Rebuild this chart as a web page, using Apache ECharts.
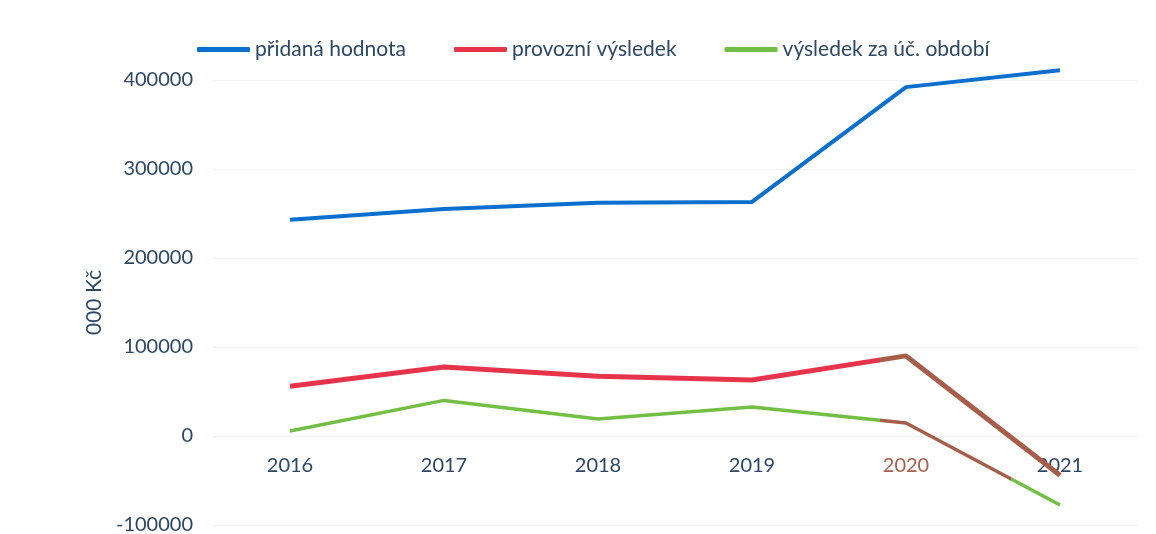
<!DOCTYPE html>
<html>
<head>
<meta charset="utf-8">
<script src="https://cdn.jsdelivr.net/npm/echarts@6/dist/echarts.min.js"></script>
<style>
  html, body { margin: 0; padding: 0; background: #fff; }
  #chart { width: 1156px; height: 534px; }
</style>
</head>
<body>
<div id="chart"></div>
<script>
const years = [2016, 2017, 2018, 2019, 2020, 2021];
const pridanaHodnota = [243000, 255000, 262000, 263000, 392000, 411000];
const provozniVysledek = [56000, 77500, 67000, 63000, 90000, -44000];
const vysledekObdobi = [5600, 40000, 19000, 32600, 14600, -77500];

const brown = '#a65e4a';
const textColor = '#2c4766';

function pairs(values) {
  return years.map(function (y, i) { return [y, values[i]]; });
}

const chart = echarts.init(document.getElementById('chart'));
const option = {
  animation: false,
  textStyle: { fontFamily: 'Lato' },
  legend: {
    top: 34,
    left: 192,
    itemGap: 48,
    itemWidth: 53,
    itemHeight: 5,
    icon: 'roundRect',
    textStyle: { fontSize: 21, color: textColor, fontFamily: 'Lato' },
    data: ['přidaná hodnota', 'provozní výsledek', 'výsledek za úč. období']
  },
  grid: { left: 213, right: 19, top: 80, bottom: 9, outerBoundsMode: 'none' },
  xAxis: {
    type: 'value',
    min: 2015.5,
    max: 2021.5,
    offset: -89,
    axisLine: { show: false, onZero: false },
    axisTick: { show: false },
    splitLine: { show: false },
    axisLabel: {
      margin: 20,
      fontSize: 20,
      customValues: years,
      formatter: function (v) { return String(v); },
      color: function (v) { return String(v) === '2020' ? brown : textColor; }
    }
  },
  yAxis: {
    type: 'value',
    min: -100000,
    max: 400000,
    interval: 100000,
    name: '000 Kč',
    nameLocation: 'middle',
    nameGap: 97,
    nameTextStyle: { fontSize: 21, color: textColor },
    axisLine: { show: false },
    axisTick: { show: false },
    axisLabel: {
      fontSize: 20, color: textColor, margin: 20,
      formatter: function (v) { return String(v); }
    },
    splitLine: { lineStyle: { color: '#f2f2f2', width: 1 } }
  },
  visualMap: [
    {
      show: false, seriesIndex: 1, dimension: 0,
      pieces: [{ gte: 2015, lte: 2019.83, color: '#e8344a' }, { gt: 2019.83, lte: 2022, color: brown }]
    },
    {
      show: false, seriesIndex: 2, dimension: 0,
      pieces: [
        { gte: 2015, lte: 2019.83, color: '#72bf44' },
        { gt: 2019.83, lte: 2020.68, color: brown },
        { gt: 2020.68, lte: 2022, color: '#72bf44' }
      ]
    }
  ],
  series: [
    {
      name: 'přidaná hodnota', type: 'line', data: pairs(pridanaHodnota), clip: false,
      showSymbol: false, color: '#0b6fd0', lineStyle: { width: 4 }
    },
    {
      name: 'provozní výsledek', type: 'line', data: pairs(provozniVysledek), clip: false,
      showSymbol: false, color: '#e8344a', lineStyle: { width: 5 }
    },
    {
      name: 'výsledek za úč. období', type: 'line', data: pairs(vysledekObdobi), clip: false,
      showSymbol: false, color: '#72bf44', lineStyle: { width: 3.5 }
    }
  ]
};
chart.setOption(option);
</script>
</body>
</html>
